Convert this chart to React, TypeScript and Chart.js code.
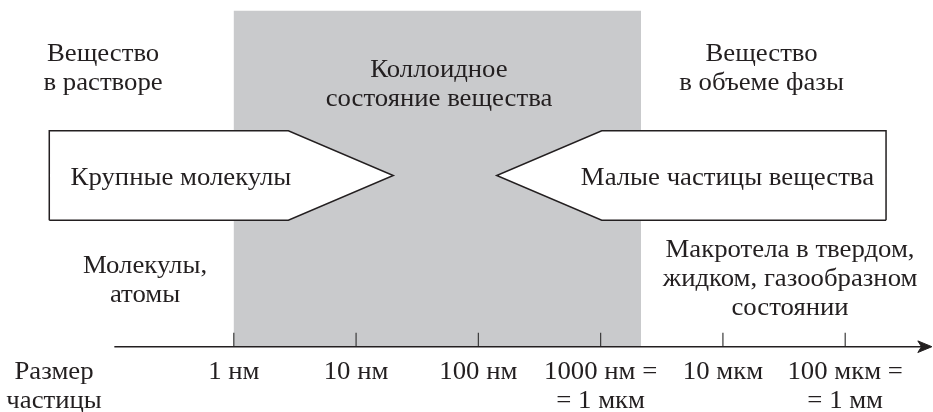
import React, { useEffect, useRef } from "react";
import { Chart, registerables } from "chart.js";

Chart.register(...registerables);

// ---- data (x: log10 of particle size in nm, y: height above the size axis) ----
const sizeTicks = [0, 1, 2, 3, 4, 5];
const sizeTickLabels = [
  ["1 нм"],
  ["10 нм"],
  ["100 нм"],
  ["1000 нм =", "= 1 мкм"],
  ["10 мкм"],
  ["100 мкм =", "= 1 мм"],
];
const axisTitle = ["Размер", "частицы"];
const axisRange = [-0.977, 5.709];
const colloidRange = [0, 3.33];
const colloidHeight = 336;
const arrowBand = [126.5, 216];
const largeMoleculesArrow = [-1.509, 0.446, 1.304]; // tail, shoulder, tip
const smallParticlesArrow = [5.334, 3.009, 2.15]; // tail, shoulder, tip
const tickLength = 14;

const regionLabels = [
  { lines: ["Вещество", "в растворе"], x: -1.069, y: 285.7 },
  { lines: ["Коллоидное", "состояние вещества"], x: 1.678, y: 270 },
  { lines: ["Вещество", "в объеме фазы"], x: 4.316, y: 285.3 },
  { lines: ["Крупные молекулы"], x: -0.432, y: 161.7 },
  { lines: ["Малые частицы вещества"], x: 4.037, y: 161.7 },
  { lines: ["Молекулы,", "атомы"], x: -0.726, y: 73.4 },
  { lines: ["Макротела в твердом,", "жидком, газообразном", "состоянии"], x: 4.549, y: 90 },
];

// ---- layout ----
const W = 933;
const H = 412;
const X_MIN = -1.912;
const X_MAX = 5.718;
const Y_MIN = -65.3;
const Y_MAX = 346.7;
const INK = "#231f20";
const GRAY = "#c9cacc";
const FONT = '25px "Liberation Serif"';
const TEXT_STRETCH = 1.07;
const LINE = 29;

const polygon = (pts: { x: number; y: number }[], fill: string, order: number, bw = 1.5, stroke = INK) => ({
  data: [...pts, pts[0]],
  showLine: true,
  fill: "shape",
  backgroundColor: fill,
  borderColor: stroke,
  borderWidth: bw,
  pointRadius: 0,
  tension: 0,
  order,
});

export default function App() {
  const ref = useRef<HTMLCanvasElement | null>(null);

  useEffect(() => {
    if (!ref.current) return;
    const [lo, hi] = arrowBand;
    const mid = (lo + hi) / 2;
    const [lt, ls, lp] = largeMoleculesArrow;
    const [rt, rs, rp] = smallParticlesArrow;

    const datasets: any[] = [
      polygon(
        [
          { x: colloidRange[0], y: 0 },
          { x: colloidRange[0], y: colloidHeight },
          { x: colloidRange[1], y: colloidHeight },
          { x: colloidRange[1], y: 0 },
        ],
        GRAY,
        10,
        0,
        "rgba(0,0,0,0)"
      ),
      polygon(
        [
          { x: lt, y: lo },
          { x: lt, y: hi },
          { x: ls, y: hi },
          { x: lp, y: mid },
          { x: ls, y: lo },
        ],
        "#ffffff",
        5
      ),
      polygon(
        [
          { x: rt, y: lo },
          { x: rt, y: hi },
          { x: rs, y: hi },
          { x: rp, y: mid },
          { x: rs, y: lo },
        ],
        "#ffffff",
        5
      ),
      {
        data: [
          { x: axisRange[0], y: 0 },
          { x: axisRange[1] - 0.05, y: 0 },
        ],
        showLine: true,
        borderColor: INK,
        borderWidth: 1.5,
        pointRadius: 0,
        order: 2,
      },
      polygon(
        [
          { x: axisRange[1], y: 0 },
          { x: axisRange[1] - 0.115, y: 5.8 },
          { x: axisRange[1] - 0.085, y: 0 },
          { x: axisRange[1] - 0.115, y: -5.8 },
        ],
        INK,
        1,
        1,
        INK
      ),
      ...sizeTicks.map((t) => ({
        data: [
          { x: t, y: 0 },
          { x: t, y: tickLength },
        ],
        showLine: true,
        borderColor: "#3a3a3a",
        borderWidth: 1.2,
        pointRadius: 0,
        order: 3,
      })),
    ];

    const textPlugin = {
      id: "texts",
      afterDatasetsDraw(chart: any) {
        const { ctx } = chart;
        const xs = chart.scales.x;
        const ys = chart.scales.y;
        ctx.save();
        ctx.fillStyle = INK;
        ctx.font = FONT;
        ctx.textAlign = "center";
        ctx.textBaseline = "alphabetic";
        const draw = (lines: string[], x: number, y: number) => {
          const px = xs.getPixelForValue(x);
          const py = ys.getPixelForValue(y);
          lines.forEach((l, i) => {
            ctx.save();
            ctx.translate(px, py + i * LINE);
            ctx.scale(TEXT_STRETCH, 1);
            ctx.fillText(l, 0, 0);
            ctx.restore();
          });
        };
        regionLabels.forEach((r) => draw(r.lines, r.x, r.y));
        sizeTicks.forEach((t, i) => draw(sizeTickLabels[i], t, -32.3));
        draw(axisTitle, -1.47, -32.3);
        ctx.restore();
      },
    };

    const chart = new Chart(ref.current, {
      type: "scatter",
      data: { datasets },
      options: {
        responsive: false,
        animation: false,
        events: [],
        layout: { padding: 0 },
        plugins: { legend: { display: false }, tooltip: { enabled: false } },
        scales: {
          x: { type: "linear", display: false, min: X_MIN, max: X_MAX },
          y: { type: "linear", display: false, min: Y_MIN, max: Y_MAX },
        },
      },
      plugins: [textPlugin],
    } as any);
    return () => chart.destroy();
  }, []);

  return (
    <div style={{ position: "fixed", left: 0, top: 0, width: W, height: H, background: "#fff" }}>
      <canvas ref={ref} width={W} height={H} style={{ display: "block", width: W, height: H }} />
    </div>
  );
}
